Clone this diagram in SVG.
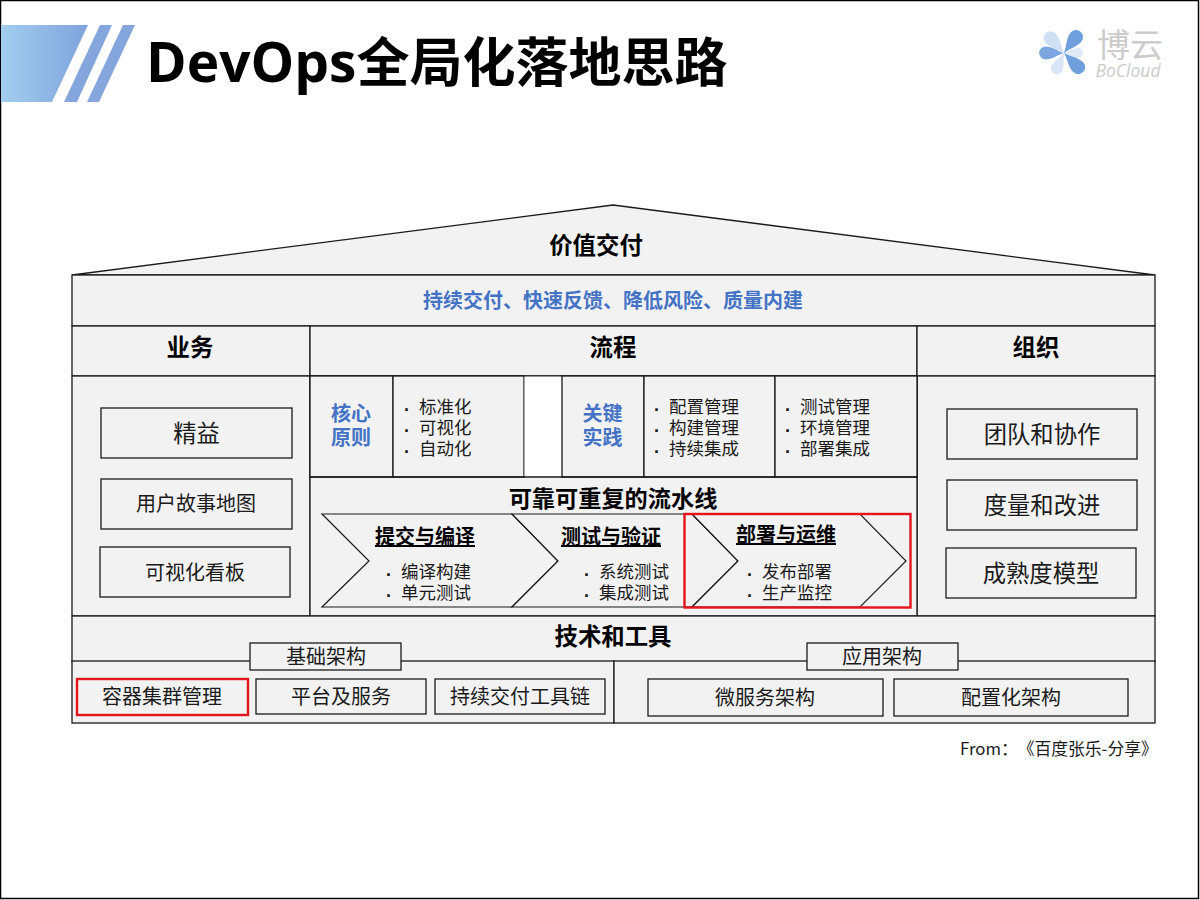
<svg xmlns="http://www.w3.org/2000/svg" width="1200" height="900" viewBox="0 0 1200 900">
<style>
text{font-family:"Noto Sans CJK SC","Noto Sans",sans-serif;fill:#1a1a1a;text-anchor:middle}
.b{fill:#f2f2f2;stroke:#1a1a1a;stroke-width:1.3}
.red{fill:none;stroke:#e3141c;stroke-width:2.4}
.h{font-size:23.400px;font-weight:700;fill:#000}
.blue{font-size:20px;font-weight:700;fill:#4472c4}
.m{font-size:23.300px}
.s{font-size:20px}
.l{font-size:17.500px;text-anchor:start}
.dot{font-family:"Liberation Sans",sans-serif;font-size:18px;font-weight:700}
.u{font-size:20px;font-weight:700;text-decoration:underline;fill:#000}
</style>
<defs>
<linearGradient id="g" x1="0" x2="1" y1="0" y2="0"><stop offset="0" stop-color="#a3cdef"/><stop offset="1" stop-color="#7ea3db"/></linearGradient>
<path id="petal" d="M0,0 C-2,-7 -7,-13 -7,-20 A7,7 0 1 1 7,-20 C7,-13 2,-7 0,0 Z"/>
</defs>
<rect x="0.5" y="0.5" width="1198" height="898" fill="#fff" stroke="#000" stroke-width="1.500"/>
<g id="banner">
<polygon points="1,25 88,25 52,102 1,102" fill="url(#g)"/>
<polygon points="100,25 112,25 77,102 64,102" fill="#84a6dc"/>
<polygon points="123,25 135,25 99,102 87,102" fill="#84a6dc"/>
</g>
<text id="title" x="146" y="82" style="text-anchor:start;font-size:53px;font-weight:700;fill:#000"><tspan font-family="Open Sans" font-size="55">DevOps</tspan>全局化落地思路</text>
<g id="logo">
<use href="#petal" transform="translate(1064,53) rotate(-42)" fill="#cfe0f3"/>
<use href="#petal" transform="translate(1064,53) rotate(205) scale(.85)" fill="#d8e6f5"/>
<use href="#petal" transform="translate(1064,53) rotate(90) scale(.7)" fill="#dde9f6"/>
<use href="#petal" transform="translate(1064,53) rotate(37)" fill="#6f9fdc"/>
<use href="#petal" transform="translate(1064,53) rotate(135)" fill="#6f9fdc"/>
<use href="#petal" transform="translate(1064,53) rotate(-90) scale(.92)" fill="#7ba6df"/>
<text x="1130" y="57" style="font-size:33px;fill:#cccccc">博云</text>
<text x="1128" y="77" style="font-size:17.500px;font-style:italic;fill:#cccccc;font-family:'Open Sans',sans-serif">BoCloud</text>
</g>
<g id="roof"><polygon class="b" points="72,275 613,205 1155,275"/><text class="h" x="596" y="254">价值交付</text></g>
<g id="band"><rect class="b" x="72" y="275" width="1083" height="51"/><text x="613" y="308" style="font-size:20px;font-weight:700;fill:#4472c4">持续交付、快速反馈、降低风险、质量内建</text></g>
<g id="biz-head"><rect class="b" x="72" y="326" width="238" height="50"/><text class="h" x="190" y="356">业务</text></g>
<g id="flow-head"><rect class="b" x="310" y="326" width="607" height="50"/><text class="h" x="613" y="356">流程</text></g>
<g id="org-head"><rect class="b" x="917" y="326" width="238" height="50"/><text class="h" x="1036" y="356">组织</text></g>
<g id="biz"><rect class="b" x="72" y="376" width="238" height="240"/></g>
<g id="org"><rect class="b" x="917" y="376" width="238" height="240"/></g>
<g id="flow"><rect class="b" x="310" y="376" width="607" height="240"/></g>
<g id="n1"><rect class="b" x="101" y="408" width="191" height="50"/><text class="m" x="196.500" y="442">精益</text></g>
<g id="n2"><rect class="b" x="101" y="479" width="191" height="50"/><text class="s" x="196" y="511">用户故事地图</text></g>
<g id="n3"><rect class="b" x="100" y="547" width="190" height="50"/><text class="s" x="195" y="580">可视化看板</text></g>
<g id="n4"><rect class="b" x="947" y="409" width="190" height="50"/><text class="m" x="1042" y="443">团队和协作</text></g>
<g id="n5"><rect class="b" x="947" y="480" width="190" height="50"/><text class="m" x="1042" y="514">度量和改进</text></g>
<g id="n6"><rect class="b" x="946" y="548" width="190" height="50"/><text class="m" x="1041" y="582">成熟度模型</text></g>
<g id="core"><rect class="b" x="310" y="376" width="83" height="101"/><text class="blue" x="351" y="421">核心</text><text class="blue" x="351" y="445">原则</text></g>
<g id="core-list"><rect class="b" x="393" y="376" width="131" height="101"/>
<text class="l" y="413"><tspan class="dot" x="404" dy="3">·</tspan><tspan x="419" dy="-3">标准化</tspan></text>
<text class="l" y="434"><tspan class="dot" x="404" dy="3">·</tspan><tspan x="419" dy="-3">可视化</tspan></text>
<text class="l" y="455"><tspan class="dot" x="404" dy="3">·</tspan><tspan x="419" dy="-3">自动化</tspan></text></g>
<rect x="524.600" y="376.700" width="37" height="99.600" fill="#fff"/>
<g id="key"><rect class="b" x="562" y="376" width="82" height="101"/><text class="blue" x="602.500" y="421">关键</text><text class="blue" x="602.500" y="445">实践</text></g>
<g id="key-a"><rect class="b" x="644" y="376" width="131" height="101"/>
<text class="l" y="413"><tspan class="dot" x="654" dy="3">·</tspan><tspan x="669" dy="-3">配置管理</tspan></text>
<text class="l" y="434"><tspan class="dot" x="654" dy="3">·</tspan><tspan x="669" dy="-3">构建管理</tspan></text>
<text class="l" y="455"><tspan class="dot" x="654" dy="3">·</tspan><tspan x="669" dy="-3">持续集成</tspan></text></g>
<g id="key-b"><rect class="b" x="775" y="376" width="142" height="101"/>
<text class="l" y="413"><tspan class="dot" x="785" dy="3">·</tspan><tspan x="800" dy="-3">测试管理</tspan></text>
<text class="l" y="434"><tspan class="dot" x="785" dy="3">·</tspan><tspan x="800" dy="-3">环境管理</tspan></text>
<text class="l" y="455"><tspan class="dot" x="785" dy="3">·</tspan><tspan x="800" dy="-3">部署集成</tspan></text></g>
<line x1="310" y1="477" x2="917" y2="477" stroke="#1a1a1a" stroke-width="1.300"/>
<text id="pipe-title" x="613" y="507" style="font-size:23.200px;font-weight:700;fill:#000">可靠可重复的流水线</text>
<g id="connectors" fill="none" stroke="#1a1a1a" stroke-width="1.200">
<path d="M322,514 H512 L558,561 L512,607 H322 L369,561 Z" fill="#f2f2f2"/>
<path d="M512,514 H692 L738,561 L692,607 H512 L558,561 Z" fill="#f2f2f2"/>
<path d="M692,514 H860 L906,561 L860,607 H692 L738,561 Z" fill="#f2f2f2"/>
</g>
<g id="s1"><text class="u" x="425" y="544">提交与编译</text>
<text class="l" y="578"><tspan class="dot" x="386" dy="3">·</tspan><tspan x="401" dy="-3">编译构建</tspan></text>
<text class="l" y="599"><tspan class="dot" x="386" dy="3">·</tspan><tspan x="401" dy="-3">单元测试</tspan></text></g>
<g id="s2"><text class="u" x="611" y="544">测试与验证</text>
<text class="l" y="578"><tspan class="dot" x="584" dy="3">·</tspan><tspan x="599" dy="-3">系统测试</tspan></text>
<text class="l" y="599"><tspan class="dot" x="584" dy="3">·</tspan><tspan x="599" dy="-3">集成测试</tspan></text></g>
<g id="s3"><text class="u" x="786" y="542">部署与运维</text>
<text class="l" y="578"><tspan class="dot" x="747" dy="3">·</tspan><tspan x="762" dy="-3">发布部署</tspan></text>
<text class="l" y="599"><tspan class="dot" x="747" dy="3">·</tspan><tspan x="762" dy="-3">生产监控</tspan></text></g>
<rect class="red" x="684.500" y="514" width="226" height="93.500"/>
<g id="tech"><rect class="b" x="72" y="616" width="1083" height="46"/><text class="h" x="613" y="645">技术和工具</text></g>
<g id="infra"><rect class="b" x="72" y="661" width="542" height="62"/></g>
<g id="app"><rect class="b" x="614" y="661" width="541" height="62"/></g>
<g id="t1"><rect class="b" x="250" y="643" width="151" height="27"/><text class="s" x="326" y="664">基础架构</text></g>
<g id="t2"><rect class="b" x="807" y="643" width="151" height="27"/><text class="s" x="882" y="664">应用架构</text></g>
<g id="c1"><rect class="b" x="77" y="679" width="171" height="36" style="stroke:#e3141c;stroke-width:2.400"/><text class="s" x="162" y="704">容器集群管理</text></g>
<g id="c2"><rect class="b" x="256" y="679" width="170" height="35"/><text class="s" x="341" y="704">平台及服务</text></g>
<g id="c3"><rect class="b" x="435" y="679" width="170" height="35"/><text class="s" x="520" y="704">持续交付工具链</text></g>
<g id="c4"><rect class="b" x="648" y="679" width="235" height="37"/><text class="s" x="765" y="705">微服务架构</text></g>
<g id="c5"><rect class="b" x="894" y="679" width="234" height="37"/><text class="s" x="1011" y="705">配置化架构</text></g>
<text id="from" x="960" y="755" style="text-anchor:start;font-size:16.800px;font-feature-settings:'chws' 0;text-spacing-trim:space-all">From：《百度张乐-分享》</text>
</svg>
